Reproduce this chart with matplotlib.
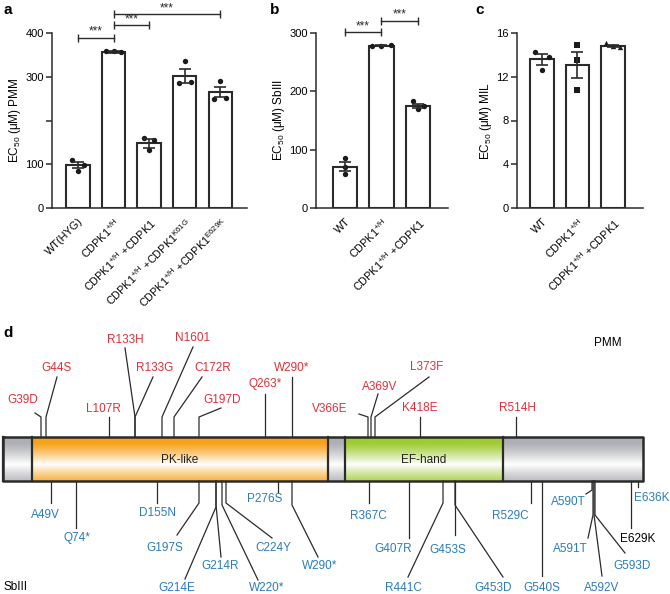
import numpy as np
import matplotlib.pyplot as plt
from matplotlib.colors import to_rgb

plt.rcParams['font.family'] = ['Liberation Sans', 'DejaVu Sans']
plt.rcParams['mathtext.fontset'] = 'custom'
plt.rcParams['mathtext.rm'] = 'Liberation Sans'
plt.rcParams['mathtext.it'] = 'Liberation Sans:italic'
plt.rcParams['mathtext.bf'] = 'Liberation Sans:bold'
plt.rcParams['axes.linewidth'] = 1.1

SUP = 'CDPK1$^{\\mathregular{+/H}}$'

# ---- panel a : PMM ----
a_labels = ['WT(HYG)', SUP, SUP + ' +CDPK1', SUP + ' +CDPK1$^{\\mathregular{K61G}}$',
            SUP + ' +CDPK1$^{\\mathregular{E629K}}$']
a_mean = [98, 357, 148, 301, 265]
a_sem = [7, 2, 10, 16, 11]
a_points = [[84, 109, 98], [358, 360, 357], [132, 160, 155], [335, 286, 287], [290, 250, 252]]
a_sig = [(0, 1, 389), (1, 2, 418), (1, 4, 443)]

# ---- panel b : SbIII ----
b_labels = ['WT', SUP, SUP + ' +CDPK1']
b_mean = [71, 278, 175]
b_sem = [8, 1, 4]
b_points = [[59, 86, 71], [278, 277, 279], [169, 183, 175]]
b_sig = [(0, 1, 301), (1, 2, 321)]

# ---- panel c : MIL ----
c_labels = ['WT', SUP, SUP + ' +CDPK1']
c_mean = [13.6, 13.1, 14.8]
c_sem = [0.5, 1.2, 0.1]
c_points = [[12.65, 14.3, 13.8], [10.8, 14.9, 13.5], [14.8, 15.1, 14.7]]

# ---- panel d : CDPK1 domain map ----
protein_len = 641
domains = [('PK-like', 30, 326, '#f7a21b'), ('EF-hand', 343, 501, '#9fcb33')]
pmm_names = ['G39D', 'G44S', 'L107R', 'R133H', 'R133G', 'N1601', 'C172R', 'G197D',
             'Q263*', 'W290*', 'V366E', 'A369V', 'L373F', 'K418E', 'R514H']
pmm_res = [39, 44, 107, 133, 133, 160, 172, 197, 263, 290, 366, 369, 373, 418, 514]
sb_names = ['A49V', 'Q74*', 'D155N', 'G197S', 'G214E', 'G214R', 'W220*', 'C224Y', 'P276S',
            'W290*', 'R367C', 'G407R', 'R441C', 'G453S', 'G453D', 'R529C', 'G540S',
            'A590T', 'A591T', 'A592V', 'G593D', 'E629K', 'E636K']
sb_res = [49, 74, 155, 197, 214, 214, 220, 224, 276, 290, 367, 407, 441, 453, 453, 529, 540,
          590, 591, 592, 593, 629, 636]
black_names = ['E629K']

# label layout for panel d (elbow y, end x, end y, text x, text y)
pmm_layout = [(417, 33, 413, 21, 400), (417, 55, 377, 55, 368), (None, None, 417, 101, 409),
              (417, 123, 348, 123, 340), (417, 151, 377, 153, 368), (417, 191, 347, 191, 338),
              (417, 200, 377, 211, 368), (417, 219, 408, 220, 400), (None, None, 394, 263, 384),
              (None, None, 377, 290, 368), (417, 357, 414, 328, 409), (417, 376, 394, 378, 387),
              (417, 427, 377, 425, 367), (None, None, 417, 418, 408), (None, None, 417, 515, 408)]
sb_layout = [(None, None, 503, 43, 515), (None, None, 528, 75, 538), (None, None, 503, 155, 513),
             (503, 175, 535, 163, 548), (507, 183, 579, 175, 588), (505, 219, 557, 218, 566),
             (505, 256, 580, 265, 588), (503, 270, 538, 271, 548), (None, None, 492, 263, 499),
             (505, 316, 557, 318, 566), (None, None, 503, 366, 516), (None, None, 538, 391, 549),
             (503, 406, 577, 401, 588), (None, None, 535, 446, 550), (505, 501, 577, 491, 588),
             (None, None, 503, 508, 516), (None, None, 576, 540, 588), (490, 584, 494, 566, 502),
             (515, 586, 538, 568, 549), (515, 600, 576, 600, 588), (515, 623, 553, 630, 566),
             (None, None, 528, 636, 539), (None, None, 487, 650, 498)]

RED = '#e0303a'
BLUE = '#2b7cbc'
DARK = '#2b2b2b'

fig = plt.figure(figsize=(6.7, 5.94), dpi=100)


def bar_panel(rect, labels, mean, sem, points, ylim, yticks, yticklabels, ylabel, xlim,
              markers, offsets, width):
    ax = fig.add_axes(rect)
    x = np.arange(len(mean))
    ax.bar(x, mean, width=width, color='white', edgecolor=DARK, linewidth=1.5, zorder=2)
    for i, pts in enumerate(points):
        ax.scatter(x[i] + np.array(offsets[i]), pts, s=15, color='#1a1a1a',
                   marker=markers[i], zorder=3, linewidths=0)
    ax.errorbar(x, mean, yerr=sem, fmt='none', ecolor=DARK, elinewidth=1.2,
                capsize=4.5, capthick=1.2, zorder=4)
    ax.set_xlim(*xlim)
    ax.set_ylim(*ylim)
    ax.set_yticks(yticks)
    ax.set_yticklabels(yticklabels, fontsize=8)
    ax.set_xticks(x)
    ax.set_xticklabels(labels, rotation=45, ha='right', rotation_mode='anchor', fontsize=7.8)
    ax.set_ylabel(ylabel, fontsize=8.5, labelpad=1.5)
    ax.spines['top'].set_visible(False)
    ax.spines['right'].set_visible(False)
    ax.spines['left'].set_color(DARK)
    ax.spines['bottom'].set_color(DARK)
    ax.tick_params(axis='y', length=4, width=1.1, color=DARK, pad=2)
    ax.tick_params(axis='x', length=0, pad=6)
    return ax


def sig(ax, pairs, dy):
    for i, j, y in pairs:
        ax.plot([i, j], [y, y], color=DARK, lw=1.0, marker='|', markersize=6,
                markeredgewidth=1.0, clip_on=False, zorder=5)
        ax.text((i + j) / 2, y + dy, '***', ha='center', va='bottom', fontsize=8.5,
                color=DARK, clip_on=False)


H = 594.0
W = 670.0
top, bot = 33, 208

ax_a = bar_panel([52 / W, 1 - bot / H, 195 / W, (bot - top) / H], a_labels, a_mean, a_sem,
                 a_points, (0, 400), [0, 100, 200, 300, 400], ['0', '100', '', '300', '400'],
                 'EC$_{\\mathregular{50}}$ (μM) PMM', (-0.73, 4.75), ['o'] * 5,
                 [[0, -0.16, 0.16], [0, -0.2, 0.2], [0, -0.15, 0.15], [0, -0.17, 0.17],
                  [0, -0.17, 0.17]], 0.66)
sig(ax_a, a_sig, 0)

ax_b = bar_panel([316 / W, 1 - bot / H, 132 / W, (bot - top) / H], b_labels, b_mean, b_sem,
                 b_points, (0, 300), [0, 100, 200, 300], ['0', '100', '200', '300'],
                 'EC$_{\\mathregular{50}}$ (μM) SbIII', (-0.79, 2.82), ['o'] * 3,
                 [[0, 0, 0], [0, -0.25, 0.25], [0, -0.15, 0.15]], 0.66)
sig(ax_b, b_sig, 0)

ax_c = bar_panel([517 / W, 1 - bot / H, 126 / W, (bot - top) / H], c_labels, c_mean, c_sem,
                 c_points, (0, 16), [0, 4, 8, 12, 16], ['0', '4', '8', '12', '16'],
                 'EC$_{\\mathregular{50}}$ (μM) MIL', (-0.7, 2.85), ['o', 's', '^'],
                 [[0, -0.2, 0.2], [0, 0, 0], [0, -0.2, 0.2]], 0.66)

for lab, px in [('a', 3), ('b', 270), ('c', 475)]:
    fig.text(px / W, 1 - 10 / H, lab, fontsize=11, fontweight='bold', va='center')
fig.text(3 / W, 1 - 333 / H, 'd', fontsize=11, fontweight='bold', va='center')

# ---- panel d ----
ax_d = fig.add_axes([0, 0, 1, 1], zorder=-1)
ax_d.set_xlim(-2, 668)
ax_d.set_ylim(H, 0)
ax_d.axis('off')
y_top, y_bot = 437, 481


def tube(color, n=80):
    t = np.linspace(0, 1, n)[:, None]
    w = np.clip(1 - np.abs(t - 0.62) / 0.5, 0, 1) ** 1.2
    c = np.array(to_rgb(color))
    return c[None, None, :] * (1 - w[..., None]) + w[..., None]


segs = []
prev = 1
for name, s, e, col in domains:
    segs.append((prev, s, '#aeafb4', None))
    segs.append((s, e, col, name))
    prev = e
segs.append((prev, protein_len, '#aeafb4', None))
for s, e, col, name in segs:
    ax_d.imshow(tube(col), extent=(s, e, y_bot, y_top), aspect='auto', origin='upper',
                interpolation='bilinear', zorder=1)
    ax_d.plot([s, s], [y_top, y_bot], color=DARK, lw=1.6, zorder=2)
    if name:
        ax_d.text((s + e) / 2, 460, name, ha='center', va='center', fontsize=8.5,
                  color='#222222')
ax_d.plot([1, protein_len, protein_len, 1, 1], [y_top, y_top, y_bot, y_bot, y_top],
          color=DARK, lw=1.8, zorder=3)


def draw_muts(names, res, layout, base, color):
    for nm, r, (ey, ex, endy, tx, ty) in zip(names, res, layout):
        if ey is None:
            xs, ys = [r, r], [base, endy]
        else:
            xs, ys = [r, r, ex], [base, ey, endy]
        ax_d.plot(xs, ys, color=DARK, lw=0.9, zorder=2)
        c = 'black' if nm in black_names else color
        ax_d.text(tx, ty, nm, ha='center', va='center', fontsize=8.5, color=c)


draw_muts(pmm_names, pmm_res, pmm_layout, y_top, RED)
draw_muts(sb_names, sb_res, sb_layout, y_bot, BLUE)
ax_d.text(606, 343, 'PMM', ha='center', va='center', fontsize=8.5, color='black')
ax_d.text(2, 587, 'SbIII', ha='left', va='center', fontsize=8.5, color='black')

fig.savefig('out.png', dpi=100)
